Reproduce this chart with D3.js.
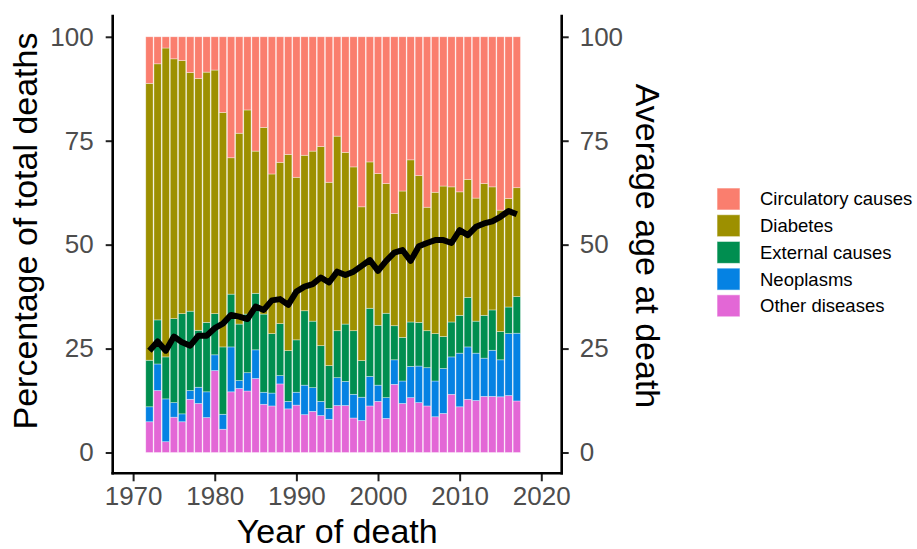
<!DOCTYPE html>
<html>
<head>
<meta charset="utf-8">
<script src="https://cdn.jsdelivr.net/npm/d3@7"></script>
<style>
  body { margin: 0; background: #fff; }
  svg { display: block; font-family: "Liberation Sans", Arial, sans-serif; }
</style>
</head>
<body>
<script>
const width = 917;
const height = 549;

const years = d3.range(1972, 2018);
const causes = ['Circulatory causes', 'Diabetes', 'External causes', 'Neoplasms', 'Other diseases'];
const colors = ['#FA7E6E', '#9D9000', '#008E50', '#0582E3', '#E367D6'];

// share of deaths (%) per cause, one value per year
const otherDiseases = [7.4, 14.9, 2.6, 8.5, 7.4, 12.8, 11.8, 8.4, 19.7, 5.6, 14.6, 15.4, 14.8, 17.8, 11.6, 11.2,
  16.5, 10.5, 11.4, 9.1, 9.9, 8.9, 8.0, 11.3, 11.3, 8.3, 7.7, 11.2, 12.3, 8.2, 16.4, 11.8, 13.2, 12.0, 11.2, 8.6,
  9.4, 14.0, 11.0, 12.8, 12.5, 13.5, 13.5, 13.4, 13.7, 12.4];
const neoplasms = [3.6, 6.4, 10.3, 3.5, 1.9, 2.1, 3.9, 6.2, 3.8, 3.6, 10.8, 1.9, 4.4, 6.9, 2.9, 3.1,
  2.0, 1.8, 3.1, 7.1, 5.7, 3.4, 2.6, 6.7, 5.8, 5.7, 5.6, 7.1, 3.9, 5.0, 5.9, 5.4, 7.5, 8.8, 9.2, 8.6,
  10.8, 9.0, 12.9, 12.6, 11.4, 9.2, 11.1, 8.9, 14.9, 16.3];
const externalCauses = [11.2, 10.6, 10.1, 20.2, 24.1, 19.1, 13.7, 16.7, 9.9, 16.2, 12.7, 13.6, 14.1, 13.6, 18.8, 14.3,
  12.5, 12.2, 12.6, 17.9, 16.0, 13.4, 10.3, 11.3, 13.8, 15.3, 8.8, 16.4, 14.4, 20.3, 8.2, 10.5, 10.7, 10.5, 8.9, 11.4,
  7.7, 8.4, 9.1, 11.9, 7.7, 10.3, 9.7, 6.8, 6.4, 8.8];
const diabetes = [66.6, 61.6, 74.3, 62.5, 60.9, 57.4, 60.6, 60.2, 58.6, 56.4, 32.8, 45.9, 49.1, 34.2, 44.9, 38.4,
  38.8, 47.2, 39.1, 37.4, 40.9, 47.9, 44.1, 46.8, 41.3, 39.4, 37.0, 35.2, 36.5, 31.2, 27.0, 35.2, 39.0, 35.3, 29.7, 34.0,
  36.2, 32.5, 29.7, 28.4, 29.6, 31.7, 29.6, 29.2, 26.1, 26.2];
const circulatory = [11.2, 6.5, 2.7, 5.3, 5.7, 8.6, 10.0, 8.5, 8.0, 18.2, 29.1, 23.2, 17.6, 27.5, 21.8, 33.0,
  30.2, 28.3, 33.8, 28.5, 27.5, 26.4, 35.0, 23.9, 27.8, 31.3, 40.9, 30.1, 32.9, 35.3, 42.5, 37.1, 29.6, 33.4, 41.0, 37.4,
  35.9, 36.1, 37.3, 34.3, 38.8, 35.3, 36.1, 41.7, 38.9, 36.3];

const averageAge = [24.5, 26.7, 24.5, 27.9, 26.5, 25.7, 28.1, 28.1, 29.9, 31.0, 33.1, 32.7, 32.1, 35.1, 34.3, 36.6,
  36.9, 35.5, 38.7, 39.9, 40.5, 42.1, 40.9, 43.5, 42.7, 43.5, 44.9, 46.3, 43.7, 46.1, 48.1, 48.7, 46.1, 49.6, 50.4, 51.1,
  51.1, 50.4, 53.5, 52.3, 54.3, 55.1, 55.6, 56.7, 58.1, 57.3];

const xTicks = [1970, 1980, 1990, 2000, 2010, 2020];
const yTicks = [0, 25, 50, 75, 100];

const rows = years.map((year, i) => ({
  year,
  'Other diseases': otherDiseases[i],
  'Neoplasms': neoplasms[i],
  'External causes': externalCauses[i],
  'Diabetes': diabetes[i],
  'Circulatory causes': circulatory[i]
}));

const panel = {left: 112.7, right: 561.7, top: 16, bottom: 473.3};

const x = d3.scaleLinear().domain([1967.5, 2022.5]).range([panel.left, panel.right]);
const y = d3.scaleLinear().domain([-5, 105]).range([panel.bottom, panel.top]);
const color = d3.scaleOrdinal().domain(causes).range(colors);

const svg = d3.select("body").append("svg")
  .attr("width", width)
  .attr("height", height);

// stacked bars, "Other diseases" at the bottom
const stack = d3.stack().keys(causes.slice().reverse());
const series = stack(rows);
const barHalf = 0.45;

svg.append('g').selectAll('g')
  .data(series)
  .join('g')
  .attr('fill', (s) => color(s.key))
  .selectAll('rect')
  .data((s) => s)
  .join('rect')
  .attr('x', (d) => x(d.data.year - barHalf))
  .attr('width', (d) => x(d.data.year + barHalf) - x(d.data.year - barHalf))
  .attr('y', (d) => y(d[1]))
  .attr('height', (d) => y(d[0]) - y(d[1]))
  .attr('stroke', '#fff')
  .attr('stroke-opacity', 0.5)
  .attr('stroke-width', 0.7);

// average age line (right axis, same 0-100 scale)
const line = d3.line().x((d, i) => x(years[i])).y((d) => y(d));
svg.append('path')
  .attr('d', line(averageAge))
  .attr('fill', 'none')
  .attr('stroke', '#000')
  .attr('stroke-width', 6)
  .attr('stroke-linejoin', 'round');

// axes
const styleAxis = (g) => {
  g.select('.domain').remove();
  g.selectAll('.tick line').attr('stroke', '#222').attr('stroke-width', 2);
  g.selectAll('.tick text').attr('fill', '#4D4D4D').style('font-size', '26px')
    .style('font-family', '"Liberation Sans", Arial, sans-serif');
};

svg.append('g')
  .attr('transform', `translate(0,${panel.bottom})`)
  .call(d3.axisBottom(x).tickValues(xTicks).tickFormat(d3.format('d')).tickSize(8).tickPadding(5))
  .call(styleAxis);

svg.append('g')
  .attr('transform', `translate(${panel.left},0)`)
  .call(d3.axisLeft(y).tickValues(yTicks).tickSize(7).tickPadding(12))
  .call(styleAxis);

svg.append('g')
  .attr('transform', `translate(${panel.right},0)`)
  .call(d3.axisRight(y).tickValues(yTicks).tickSize(7).tickPadding(11))
  .call(styleAxis);

const axisLines = [
  [panel.left, panel.top, panel.left, panel.bottom],
  [panel.right, panel.top, panel.right, panel.bottom],
  [panel.left, panel.bottom, panel.right, panel.bottom]
];
svg.append('g').selectAll('line')
  .data(axisLines)
  .join('line')
  .attr('x1', (d) => d[0]).attr('y1', (d) => d[1])
  .attr('x2', (d) => d[2]).attr('y2', (d) => d[3])
  .attr('stroke', '#000')
  .attr('stroke-width', 2.6)
  .attr('stroke-linecap', 'square');

// titles
svg.append('text')
  .attr('x', (panel.left + panel.right) / 2)
  .attr('y', 543)
  .attr('text-anchor', 'middle')
  .style('font-size', '34px')
  .text('Year of death');

svg.append('text')
  .attr('transform', 'translate(37,231) rotate(-90)')
  .attr('text-anchor', 'middle')
  .style('font-size', '34px')
  .text('Percentage of total deaths');

svg.append('text')
  .attr('transform', 'translate(636,246) rotate(90)')
  .attr('text-anchor', 'middle')
  .style('font-size', '34px')
  .text('Average age at death');

// legend
const legend = svg.append('g').attr('transform', 'translate(717,188)');
const entry = legend.selectAll('g')
  .data(causes)
  .join('g')
  .attr('transform', (d, i) => `translate(0,${i * 26.7})`);

entry.append('rect')
  .attr('width', 23)
  .attr('height', 22)
  .attr('fill', (d) => color(d))
  .attr('stroke', '#fff')
  .attr('stroke-opacity', 0.6);

entry.append('text')
  .attr('x', 43)
  .attr('y', 11)
  .attr('dy', '0.35em')
  .style('font-size', '18.5px')
  .text((d) => d);
</script>
</body>
</html>
